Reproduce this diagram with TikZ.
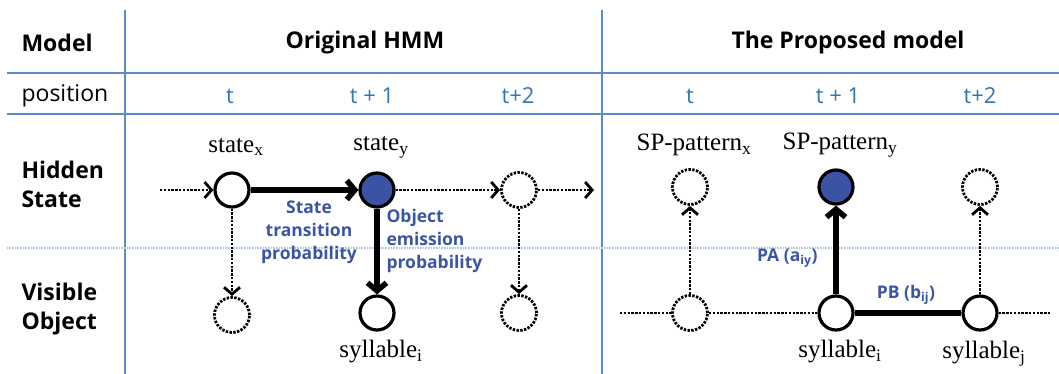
\documentclass[tikz,border=0pt]{standalone}
\usepackage{fontspec}
\setmainfont{Liberation Serif}
\newfontfamily\hdr{Open Sans}
\usetikzlibrary{arrows.meta}
\definecolor{gridc}{HTML}{5B8BC9}
\definecolor{lgrid}{HTML}{A9C8EC}
\definecolor{posc}{HTML}{2E75B6}
\definecolor{labc}{HTML}{3B55A5}
\definecolor{fillb}{HTML}{3A53A4}
\begin{document}
\begin{tikzpicture}[x=1pt,y=-1pt,
  grid/.style={gridc,line width=2pt},
  solidc/.style={circle,draw,line width=3.2pt,minimum size=34pt,inner sep=0pt,fill=white},
  hotc/.style={solidc,fill=fillb},
  ghost/.style={circle,draw,line width=2.8pt,dash pattern=on 2.4pt off 1.4pt,minimum size=35pt,inner sep=0pt},
  thickarr/.style={line width=5.5pt,-{Straight Barb[length=8pt,width=19pt]}},
  thickln/.style={line width=5.5pt},
  dotarr/.style={line width=2.8pt,dash pattern=on 2.4pt off 1.4pt,-{Straight Barb[length=7pt,width=16pt]}},
  dotln/.style={line width=2.8pt,dash pattern=on 2.4pt off 1.4pt},
  rowhead/.style={font=\hdr\bfseries\fontsize{23}{29}\selectfont,anchor=west,align=left},
  colhead/.style={font=\hdr\bfseries\fontsize{23}{29}\selectfont},
  posl/.style={font=\hdr\fontsize{22}{26}\selectfont,text=posc},
  serif/.style={font=\fontsize{25}{28}\selectfont},
  prob/.style={font=\hdr\bfseries\fontsize{17.5}{23}\selectfont,text=labc}
]
\useasboundingbox (0,0) rectangle (1059,374);
% table lines
\draw[grid] (7,73) -- (1059,73);
\draw[grid] (7,114) -- (1059,114);
\draw[grid] (125,10) -- (125,374);
\draw[grid] (602,10) -- (602,374);
\draw[lgrid,line width=1.5pt,dash pattern=on 1pt off 0.6pt] (7,248) -- (1059,248);
% headers
\node[rowhead] (hmodel) at (18,43) {Model};
\node[rowhead,font=\hdr\fontsize{23}{29}\selectfont] (hpos) at (18,96) {position};
\node[rowhead] (hhid) at (18,184) {Hidden\\State};
\node[rowhead] (hvis) at (18,309) {Visible\\Object};
\node[colhead] (horig) at (365,43) {Original HMM};
\node[colhead] (hprop) at (848,43) {The Proposed model};
\node[posl] (p1) at (230,96) {t};
\node[posl] (p2) at (372,96) {t + 1};
\node[posl] (p3) at (518,96) {t+2};
\node[posl] (q1) at (690,96) {t};
\node[posl] (q2) at (838,96) {t + 1};
\node[posl] (q3) at (980,96) {t+2};
% left: original HMM
\node[solidc] (sx) at (232,190) {};
\node[hotc] (sy) at (377,190) {};
\node[ghost] (s2) at (519,190) {};
\node[ghost] (ox) at (232,315) {};
\node[solidc] (oy) at (377,313) {};
\node[ghost] (o2) at (519,313) {};
\coordinate (in1) at (160,190);
\coordinate (out1) at (594,190);
\node[serif] (lsx) at (236,147) {state\textsubscript{x}};
\node[serif] (lsy) at (381,147) {state\textsubscript{y}};
\node[serif] (loy) at (381,352) {syllable\textsubscript{i}};
\draw[dotarr] (in1) -- (sx);
\draw[thickarr] (sx) -- (sy);
\draw[dotarr] (sy) -- (s2);
\draw[dotarr] (s2) -- (out1);
\draw[dotarr] (sx) -- (ox);
\draw[thickarr] (sy) -- (oy);
\draw[dotarr] (s2) -- (o2);
\node[prob,align=center] (ltrans) at (309,232) {State\\transition\\probability};
\node[prob,align=left,anchor=west] (lemis) at (383,241) {Object\\emission\\probability};
% right: proposed model
\node[ghost] (rt1) at (690,187) {};
\node[hotc] (rt2) at (836,187) {};
\node[ghost] (rt3) at (980,187) {};
\node[ghost] (rb1) at (690,313) {};
\node[solidc] (rb2) at (836,313) {};
\node[solidc] (rb3) at (980,313) {};
\coordinate (l1) at (620,313);
\coordinate (r1) at (1051,313);
\node[serif] (lrt1) at (694,145) {SP-pattern\textsubscript{x}};
\node[serif] (lrt2) at (840,145) {SP-pattern\textsubscript{y}};
\node[serif] (lrb2) at (840,352) {syllable\textsubscript{i}};
\node[serif] (lrb3) at (984,354) {syllable\textsubscript{j}};
\draw[dotln] (l1) -- (rb1);
\draw[dotln] (rb1) -- (rb2);
\draw[thickln] (rb2) -- (rb3);
\draw[dotln] (rb3) -- (r1);
\draw[dotarr] (rb1) -- (rt1);
\draw[thickarr] (rb2) -- (rt2);
\draw[dotarr] (rb3) -- (rt3);
\node[prob,anchor=east] (lpa) at (821,258) {PA\ (a\textsubscript{iy})};
\node[prob] (lpb) at (906,295) {PB\ (b\textsubscript{ij})};
\end{tikzpicture}
\end{document}
